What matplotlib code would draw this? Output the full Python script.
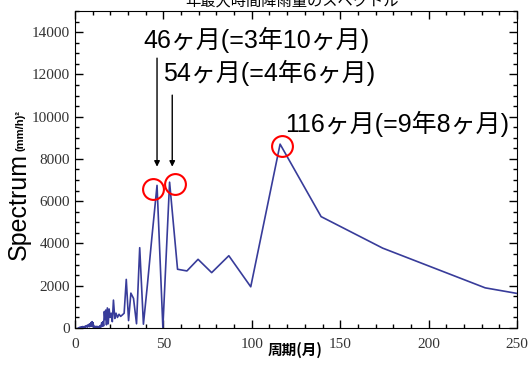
import numpy as np
import matplotlib.pyplot as plt
from matplotlib.ticker import MultipleLocator

# spectrum data (period in months, power in (mm/h)^2)
periods = [348.0, 232.0, 174.0, 139.2, 116.0, 99.4, 87.0, 77.3, 69.6, 63.3, 58.0,
           53.5, 49.7, 46.4, 43.5, 40.9, 38.7, 36.6, 34.8, 33.1, 31.6, 30.3, 29.0,
           27.8, 26.8, 25.8, 24.9, 24.0, 23.2, 22.5, 21.75, 21.1, 20.5, 19.9, 19.3,
           18.8, 18.3, 17.8, 17.4, 17.0, 16.6, 16.2, 15.8, 15.5, 15.1, 14.8, 14.5,
           14.2, 13.9, 13.6, 13.4, 13.1, 12.9, 12.7, 12.4, 12.2, 12.0, 11.8, 11.6,
           11.4, 11.2, 11.0, 10.9, 10.7, 10.5, 10.4, 10.2, 10.0, 9.7, 9.4, 9.1,
           8.8, 8.6, 8.3, 8.0, 7.7, 7.4, 7.1, 6.8, 6.5, 6.2, 5.9, 5.6, 5.3, 5.0,
           4.7, 4.4, 4.1, 3.8, 3.5, 3.2, 2.9, 2.6, 2.3, 2.0]
power = [200, 1900, 3780, 5270, 8700, 1950, 3420, 2620, 3250, 2700, 2780,
         6900, 20, 6750, 4300, 2000, 180, 3800, 200, 1400, 1650, 350, 2300,
         700, 620, 550, 650, 500, 700, 450, 1320, 300, 700, 500, 900,
         200, 950, 150, 850, 400, 780, 100, 300, 80, 250, 50, 120,
         40, 90, 20, 60, 10, 40, 30, 80, 20, 60, 10, 40,
         30, 90, 20, 50, 10, 30, 60, 250, 120, 300, 80, 260,
         100, 200, 60, 180, 90, 150, 40, 120, 70, 100, 30, 80, 50, 60,
         20, 70, 30, 50, 20, 40, 10, 30, 15, 5]

# annotated peaks (circle centres)
circ_x = [44.2, 56.6, 117.2]
circ_y = [6575, 6810, 8610]

jp = ['Liberation Sans', 'Noto Sans CJK JP']
serif = 'Liberation Serif'

fig = plt.figure(figsize=(5.3, 3.83), dpi=100)
ax = fig.add_axes([0.1415, 0.1436, 0.834, 0.8277])

ax.plot(periods, power, color='#383c9a', lw=1.2)
ax.plot(circ_x, circ_y, 'o', ms=15, mfc='none', mec='red', mew=1.5)

ax.annotate('', xy=(46.4, 7500), xytext=(46.4, 12900),
            arrowprops=dict(arrowstyle='-|>', color='k', lw=1, mutation_scale=8))
ax.annotate('', xy=(55.0, 7500), xytext=(55.0, 11150),
            arrowprops=dict(arrowstyle='-|>', color='k', lw=1, mutation_scale=8))

ax.text(38.5, 13650, '46ヶ月(=3年10ヶ月)', family=jp, fontsize=18, va='center')
ax.text(49.8, 12080, '54ヶ月(=4年6ヶ月)', family=jp, fontsize=18, va='center')
ax.text(118.9, 9670, '116ヶ月(=9年8ヶ月)', family=jp, fontsize=18, va='center')

ax.set_xlim(0, 250)
ax.set_ylim(0, 15000)
ax.set_yticks(np.arange(0, 15000, 2000))
ax.xaxis.set_major_locator(MultipleLocator(50))
ax.xaxis.set_minor_locator(MultipleLocator(10))
ax.yaxis.set_minor_locator(MultipleLocator(500))
ax.tick_params(which='both', direction='in', top=True, right=True, width=1)
ax.tick_params(which='major', length=6)
ax.tick_params(which='minor', length=3)
ax.tick_params(labelsize=11, labelcolor='#333333')
ax.tick_params(axis='x', pad=7)
for lab in ax.get_xticklabels() + ax.get_yticklabels():
    lab.set_family(serif)

fig.text(0.557, 0.086, '周期(月)', family=['Noto Sans CJK JP', 'DejaVu Sans'],
         fontsize=10.5, fontweight='bold', ha='center', va='center')
fig.text(0.036, 0.46, 'Spectrum', family='Liberation Sans', fontsize=18,
         rotation=90, ha='center', va='center')
fig.text(0.038, 0.66, '(mm/h)²', family='Liberation Sans', fontsize=8,
         fontweight='bold', rotation=90, ha='center', va='center')

fig.text(0.55, 0.997, '年最大時間降雨量のスペクトル', family=['Noto Sans CJK JP', 'DejaVu Sans'],
         fontsize=11, ha='center', va='center')

fig.savefig('out.png', dpi=100)
